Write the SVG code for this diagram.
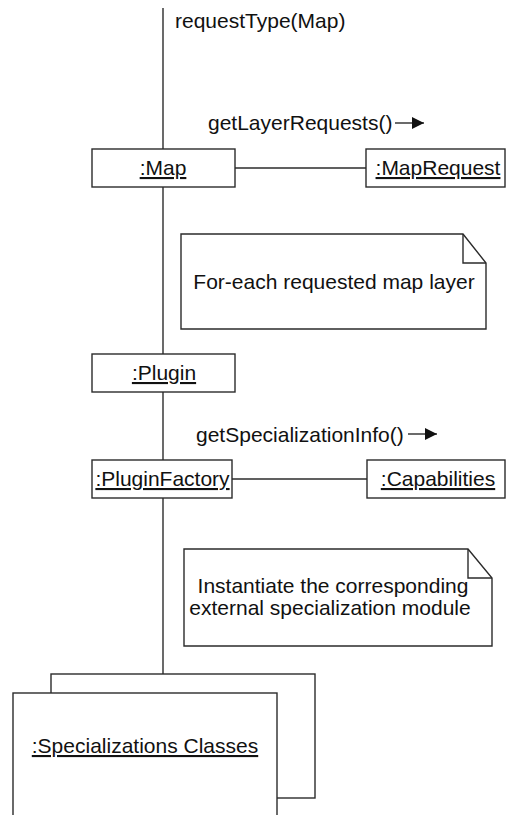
<svg xmlns="http://www.w3.org/2000/svg" width="506" height="815" viewBox="0 0 506 815">
<defs>
<style>
.box{fill:#fff;stroke:#2b2b2b;stroke-width:1.4}
.ln{fill:none;stroke:#2b2b2b;stroke-width:1.4}
.t{font-family:"Liberation Sans",Arial,sans-serif;font-size:21px;fill:#111}
.u{text-decoration:underline}
.m{text-anchor:middle}
</style>
<marker id="ah" viewBox="0 0 12 12" refX="12" refY="6" markerWidth="12" markerHeight="12" markerUnits="userSpaceOnUse" orient="auto">
<path d="M0,0 L12,6 L0,12 Z" fill="#111"/>
</marker>
</defs>
<rect width="506" height="815" fill="#fff"/>
<g id="connectors">
<line class="ln" x1="163" y1="8" x2="163" y2="149"/>
<line class="ln" x1="163" y1="187" x2="163" y2="354"/>
<line class="ln" x1="163" y1="392" x2="163" y2="460"/>
<line class="ln" x1="163" y1="498" x2="163" y2="674"/>
<line class="ln" x1="235" y1="168" x2="366" y2="168"/>
<line class="ln" x1="232" y1="479" x2="367" y2="479"/>
<text class="t" x="175" y="28">requestType(Map)</text>
<text class="t" x="208" y="130">getLayerRequests()</text>
<line class="ln" x1="395" y1="123" x2="424" y2="123" marker-end="url(#ah)"/>
<text class="t" x="196" y="442">getSpecializationInfo()</text>
<line class="ln" x1="408" y1="434" x2="437" y2="434" marker-end="url(#ah)"/>
</g>
<g id="map">
<rect class="box" x="92" y="149" width="143" height="38"/>
<text class="t u m" x="163" y="175">:Map</text>
</g>
<g id="mapRequest">
<rect class="box" x="366" y="149" width="139" height="38"/>
<text class="t u m" x="438" y="175">:MapRequest</text>
</g>
<g id="note1">
<path class="box" d="M181,234 H463 L486,263 V329 H181 Z"/>
<path class="ln" d="M463,234 V263 H486"/>
<text class="t m" x="334" y="289">For-each requested map layer</text>
</g>
<g id="plugin">
<rect class="box" x="92" y="354" width="143" height="38"/>
<text class="t u m" x="164" y="380">:Plugin</text>
</g>
<g id="pluginFactory">
<rect class="box" x="92" y="460" width="140" height="38"/>
<text class="t u m" x="162.5" y="486">:PluginFactory</text>
</g>
<g id="capabilities">
<rect class="box" x="367" y="460" width="138" height="38"/>
<text class="t u m" x="438" y="486">:Capabilities</text>
</g>
<g id="note2">
<path class="box" d="M184,549 H468 L492,578 V646 H184 Z"/>
<path class="ln" d="M468,549 V578 H492"/>
<text class="t m" x="333" y="593">Instantiate the corresponding</text>
<text class="t m" x="330" y="615">external specialization module</text>
</g>
<g id="specializations">
<rect class="box" x="51" y="674" width="264" height="124"/>
<rect class="box" x="13" y="693" width="264" height="130"/>
<text class="t u m" x="145" y="753">:Specializations Classes</text>
</g>
</svg>
